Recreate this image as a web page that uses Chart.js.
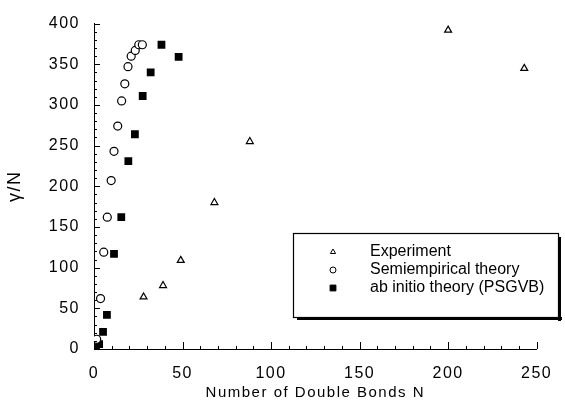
<!DOCTYPE html>
<html>
<head>
<meta charset="utf-8">
<script src="https://cdn.jsdelivr.net/npm/chart.js@4/dist/chart.umd.min.js"></script>
<style>
  html, body { margin: 0; padding: 0; background: #fff; }
  #wrap { width: 565px; height: 403px; }
</style>
</head>
<body>
<div id="wrap"><canvas id="chart" width="565" height="403"></canvas></div>
<script>
// Experiment (open triangles)
var expN = [28, 39, 49, 68, 88, 200, 243];
var expG = [64, 78, 109, 180, 255, 392, 345];

// Semiempirical theory (open circles)
var semiN = [1.5, 3.7, 5.5, 7.5, 9.7, 11.3, 13.4, 15.6, 17.4, 19.2, 21, 23.3, 25.3, 27.3];
var semiG = [12, 62, 119, 162, 207, 243, 274, 305, 326, 347, 360, 367, 374, 374];

// ab initio theory (PSGVB) (filled squares)
var abN = [1.1, 2.9, 5.1, 7.3, 11.3, 15.4, 19.4, 23.1, 27.5, 32, 38.1, 47.8];
var abG = [1, 6, 21, 42, 117, 162, 231, 264, 311, 340, 374, 359];

var xTicks = [0, 50, 100, 150, 200, 250];
var yTicks = [0, 50, 100, 150, 200, 250, 300, 350, 400];

var seriesLabels = ['Experiment', 'Semiempirical theory', 'ab initio theory (PSGVB)'];

function pairs(xs, ys) {
  return xs.map(function (x, i) { return { x: x, y: ys[i] }; });
}

var FONT = '"Liberation Sans", Arial, Helvetica, sans-serif';

// old typeset look: spaced-out axis lettering
var spacing = {
  id: 'spacing',
  beforeDraw: function (chart) { chart.ctx.letterSpacing = '1.5px'; },
  afterDraw: function (chart) { chart.ctx.letterSpacing = '0px'; }
};

// inward tick marks on both axes (major every 50, minor every 10)
var tickMarks = {
  id: 'tickMarks',
  afterDraw: function (chart) {
    var ctx = chart.ctx;
    var xs = chart.scales.x, ys = chart.scales.y;
    ctx.save();
    ctx.strokeStyle = '#000';
    ctx.lineWidth = 1;
    ctx.beginPath();
    var v, p, len;
    for (v = 0; v <= 400; v += 10) {
      p = Math.round(ys.getPixelForValue(v)) + 0.5;
      len = v % 50 === 0 ? 6 : 3;
      ctx.moveTo(xs.left, p);
      ctx.lineTo(xs.left + len, p);
    }
    for (v = 0; v <= 250; v += 10) {
      p = Math.round(xs.getPixelForValue(v)) + 0.5;
      len = v % 50 === 0 ? 7 : 3;
      ctx.moveTo(p, ys.bottom);
      ctx.lineTo(p, ys.bottom - len);
    }
    ctx.stroke();
    ctx.restore();
  }
};

// boxed legend with drop shadow
var boxLegend = {
  id: 'boxLegend',
  afterDraw: function (chart) {
    var ctx = chart.ctx;
    var bx = 293, by = 233, bw = 265, bh = 84;
    ctx.save();
    ctx.letterSpacing = '0px';
    ctx.fillStyle = '#000';
    ctx.fillRect(bx + 4, by + bh, bw, 3);
    ctx.fillRect(bx + bw, by + 4, 3, bh);
    ctx.fillStyle = '#fff';
    ctx.fillRect(bx, by, bw, bh);
    ctx.strokeStyle = '#000';
    ctx.lineWidth = 1.2;
    ctx.strokeRect(bx + 0.5, by + 0.5, bw, bh);
    ctx.font = '16px ' + FONT;
    ctx.textBaseline = 'middle';
    chart.data.datasets.forEach(function (ds, i) {
      var cy = by + 19 + i * 18;
      ctx.fillStyle = ds.backgroundColor;
      ctx.strokeStyle = ds.borderColor;
      ctx.lineWidth = 1;
      Chart.helpers.drawPoint(ctx, {
        pointStyle: ds.pointStyle, radius: ds.pointRadius * 0.75,
        borderWidth: 1, rotation: 0
      }, 333, cy);
      ctx.fillStyle = '#000';
      ctx.fillText(ds.label, 370, cy);
    });
    ctx.restore();
  }
};

new Chart(document.getElementById('chart'), {
  type: 'scatter',
  data: {
    datasets: [
      {
        label: seriesLabels[0], data: pairs(expN, expG),
        pointStyle: 'triangle', pointRadius: 4, borderWidth: 1.2,
        borderColor: '#000', backgroundColor: '#fff'
      },
      {
        label: seriesLabels[1], data: pairs(semiN, semiG),
        pointStyle: 'circle', pointRadius: 4, borderWidth: 1.2,
        borderColor: '#000', backgroundColor: '#fff'
      },
      {
        label: seriesLabels[2], data: pairs(abN, abG),
        pointStyle: 'rect', pointRadius: 5.5, borderWidth: 0,
        borderColor: '#000', backgroundColor: '#000'
      }
    ]
  },
  options: {
    responsive: false,
    animation: false,
    events: [],
    layout: { padding: { left: 0, right: 20, top: 21, bottom: 0 } },
    plugins: {
      legend: { display: false },
      tooltip: { enabled: false }
    },
    scales: {
      x: {
        type: 'linear', min: 0, max: 250,
        afterBuildTicks: function (s) { s.ticks = xTicks.map(function (v) { return { value: v }; }); },
        afterFit: function (s) { s.height = 54; },
        grid: { display: false, drawTicks: false },
        border: { display: true, color: '#000', width: 1 },
        ticks: { color: '#000', padding: 15, font: { family: FONT, size: 16 }, maxRotation: 0 },
        title: {
          display: true, text: 'Number of Double Bonds N', color: '#000',
          font: { family: FONT, size: 15 }, padding: { top: 0, bottom: 1 }
        }
      },
      y: {
        type: 'linear', min: 0, max: 400,
        afterBuildTicks: function (s) { s.ticks = yTicks.map(function (v) { return { value: v }; }); },
        afterFit: function (s) { s.width = 94; },
        grid: { display: false, drawTicks: false },
        border: { display: true, color: '#000', width: 1 },
        ticks: { color: '#000', padding: 14, font: { family: FONT, size: 16 } },
        title: {
          display: true, text: 'γ/N', color: '#000',
          font: { family: FONT, size: 18 }, padding: { top: 4, bottom: 0 }
        }
      }
    }
  },
  plugins: [spacing, tickMarks, boxLegend]
});
</script>
</body>
</html>
